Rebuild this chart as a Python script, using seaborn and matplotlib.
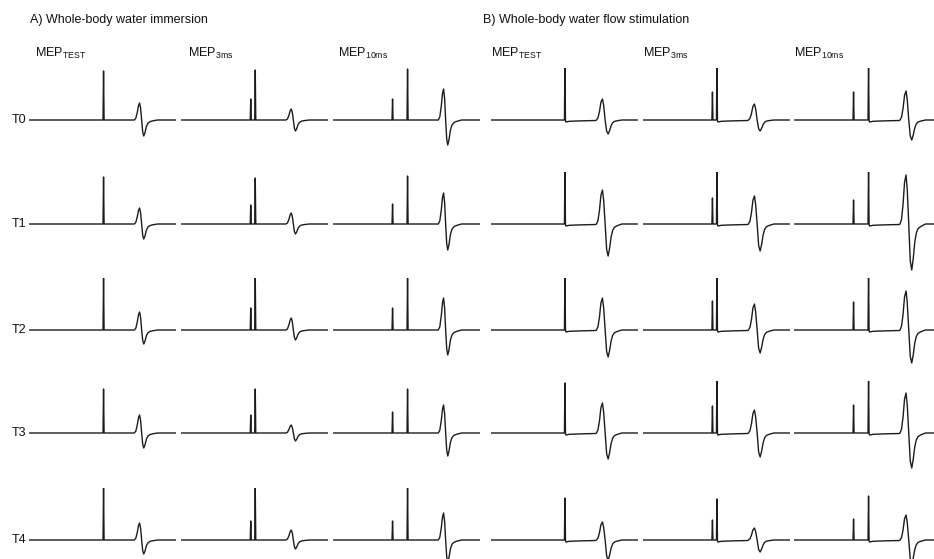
import numpy as np
import pandas as pd
import matplotlib
matplotlib.use("Agg")
import matplotlib.pyplot as plt
import seaborn as sns

sns.set_theme(style="white")
plt.rcParams['font.family'] = ['Liberation Sans', 'DejaVu Sans']
plt.rcParams['mathtext.fontset'] = 'custom'
plt.rcParams['mathtext.rm'] = 'Liberation Sans'
plt.rcParams['mathtext.it'] = 'Liberation Sans:italic'

# ---------------- data (arbitrary units) ----------------
sessions = ["T0", "T1", "T2", "T3", "T4"]
conditions = ["TEST", "3ms", "10ms"]
isi_ms = [None, 3, 10]           # conditioning-to-test interval (ms)
groups = ["A) Whole-body water immersion", "B) Whole-body water flow stimulation"]

# rows = T0..T4, cols = MEP_TEST, MEP_3ms, MEP_10ms
A_test_artifact = [[49, 50, 51], [47, 46, 48], [52, 52, 52], [44, 44, 44], [52, 52, 53]]
A_cond_artifact = [[0, 21, 21], [0, 19, 20], [0, 22, 22], [0, 18, 21], [0, 19, 19]]
A_mep_peak      = [[17, 11, 31], [16, 11, 31], [18, 12, 32], [18, 8, 28], [17, 10, 27]]
A_mep_trough    = [[16, 11, 25], [15, 10, 26], [14, 10, 25], [15, 8, 23], [14, 9, 22]]

B_test_artifact = [[57, 58, 58], [53, 54, 54], [58, 57, 58], [50, 57, 52], [42, 41, 44]]
B_cond_artifact = [[0, 28, 28], [0, 26, 24], [0, 29, 28], [0, 27, 28], [0, 20, 21]]
B_mep_peak      = [[21, 16, 29], [34, 28, 49], [32, 26, 39], [30, 23, 40], [18, 12, 25]]
B_mep_trough    = [[14, 11, 20], [32, 27, 46], [27, 23, 33], [26, 24, 35], [20, 12, 24]]

# normalised MEP waveform templates (time after test pulse in ms, shape)
A_shape_t = [20.5, 21.5, 22.5, 23.3, 24.0, 24.7, 25.4, 26.1, 26.8, 27.6, 28.6, 29.6, 31.0, 33.0, 36.0]
A_shape_v = [0.0, 0.1, 0.45, 0.85, 1.0, 0.7, 0.0, -0.75, -1.0, -0.8, -0.4, -0.2, -0.1, -0.05, 0.0]
B_shape_t = [21.0, 22.0, 23.0, 24.0, 25.0, 25.8, 26.8, 27.8, 28.8, 29.8, 30.8, 31.8, 33.0, 35.0, 38.0]
B_shape_v = [0.0, 0.1, 0.4, 0.85, 1.0, 0.7, 0.0, -0.8, -1.0, -0.75, -0.4, -0.2, -0.1, -0.05, 0.0]
# stimulus-artifact tail in group B (time ms, level)
B_tail_t = [0.6, 3.0, 10.0, 20.5]
B_tail_v = [-2.0, -1.3, -0.9, -0.5]

T_START, T_END = -49.5, 48.5
SPIKE_HALF = 0.35

data = {
    0: dict(test=A_test_artifact, cond=A_cond_artifact, peak=A_mep_peak, trough=A_mep_trough,
            st=A_shape_t, sv=A_shape_v, tail=None),
    1: dict(test=B_test_artifact, cond=B_cond_artifact, peak=B_mep_peak, trough=B_mep_trough,
            st=B_shape_t, sv=B_shape_v, tail=(B_tail_t, B_tail_v)),
}


def build_trace(g, r, c):
    d = data[g]
    t, v = [T_START], [0.0]
    isi = isi_ms[c]
    if isi is not None:
        h = d["cond"][r][c]
        t += [-isi - SPIKE_HALF, -isi, -isi + SPIKE_HALF]
        v += [0.0, h, 0.0]
    t += [-SPIKE_HALF, 0.0, SPIKE_HALF]
    v += [0.0, d["test"][r][c], 0.0]
    if d["tail"] is not None:
        t += d["tail"][0]
        v += d["tail"][1]
    pk, tr = d["peak"][r][c], d["trough"][r][c]
    for ti, vi in zip(d["st"], d["sv"]):
        t.append(ti)
        v.append(vi * pk if vi > 0 else vi * tr)
    t.append(T_END)
    v.append(0.0)
    return pd.DataFrame({"time": t, "amp": v})


# ---------------- layout (pixels of a 934x559 canvas) ----------------
W, H = 934, 559
fig = plt.figure(figsize=(W / 100, H / 100), dpi=100)
fig.patch.set_facecolor("white")

panel_left = [29.3, 181.0, 333.3, 490.7, 642.7, 794.3]
panel_w = 147.0
row_base = [120, 224, 330, 433, 540]
half_h = 52.0
line_color = "#1c1c1c"

for g in range(2):
    for c in range(3):
        col = g * 3 + c
        for r in range(5):
            x0 = panel_left[col] / W
            y0 = 1 - (row_base[r] + half_h) / H
            ax = fig.add_axes([x0, y0, panel_w / W, 2 * half_h / H])
            df = build_trace(g, r, c)
            sns.lineplot(data=df, x="time", y="amp", ax=ax, color=line_color,
                         linewidth=1.0, sort=False, estimator=None)
            ax.set_xlim(T_START, T_END)
            ax.set_ylim(-half_h, half_h)
            ax.axis("off")

# group titles
title_x = [30, 482.7]
for g in range(2):
    fig.text(title_x[g] / W, 1 - 22.7 / H, groups[g], fontsize=9, color="#111111",
             ha="left", va="baseline")

# column headers
header_x = [35, 187.7, 338.3, 491, 642.7, 794.3]
for col in range(6):
    cond = conditions[col % 3]
    fig.text(header_x[col] / W, 1 - 56.7 / H, r"MEP$_{\mathrm{%s}}$" % cond,
             fontsize=9, color="#111111", ha="left", va="baseline")

# row labels
for r in range(5):
    fig.text(26.5 / W, 1 - row_base[r] / H, sessions[r], fontsize=9, color="#111111",
             ha="right", va="center")

fig.savefig("out.png", dpi=100, facecolor="white")
